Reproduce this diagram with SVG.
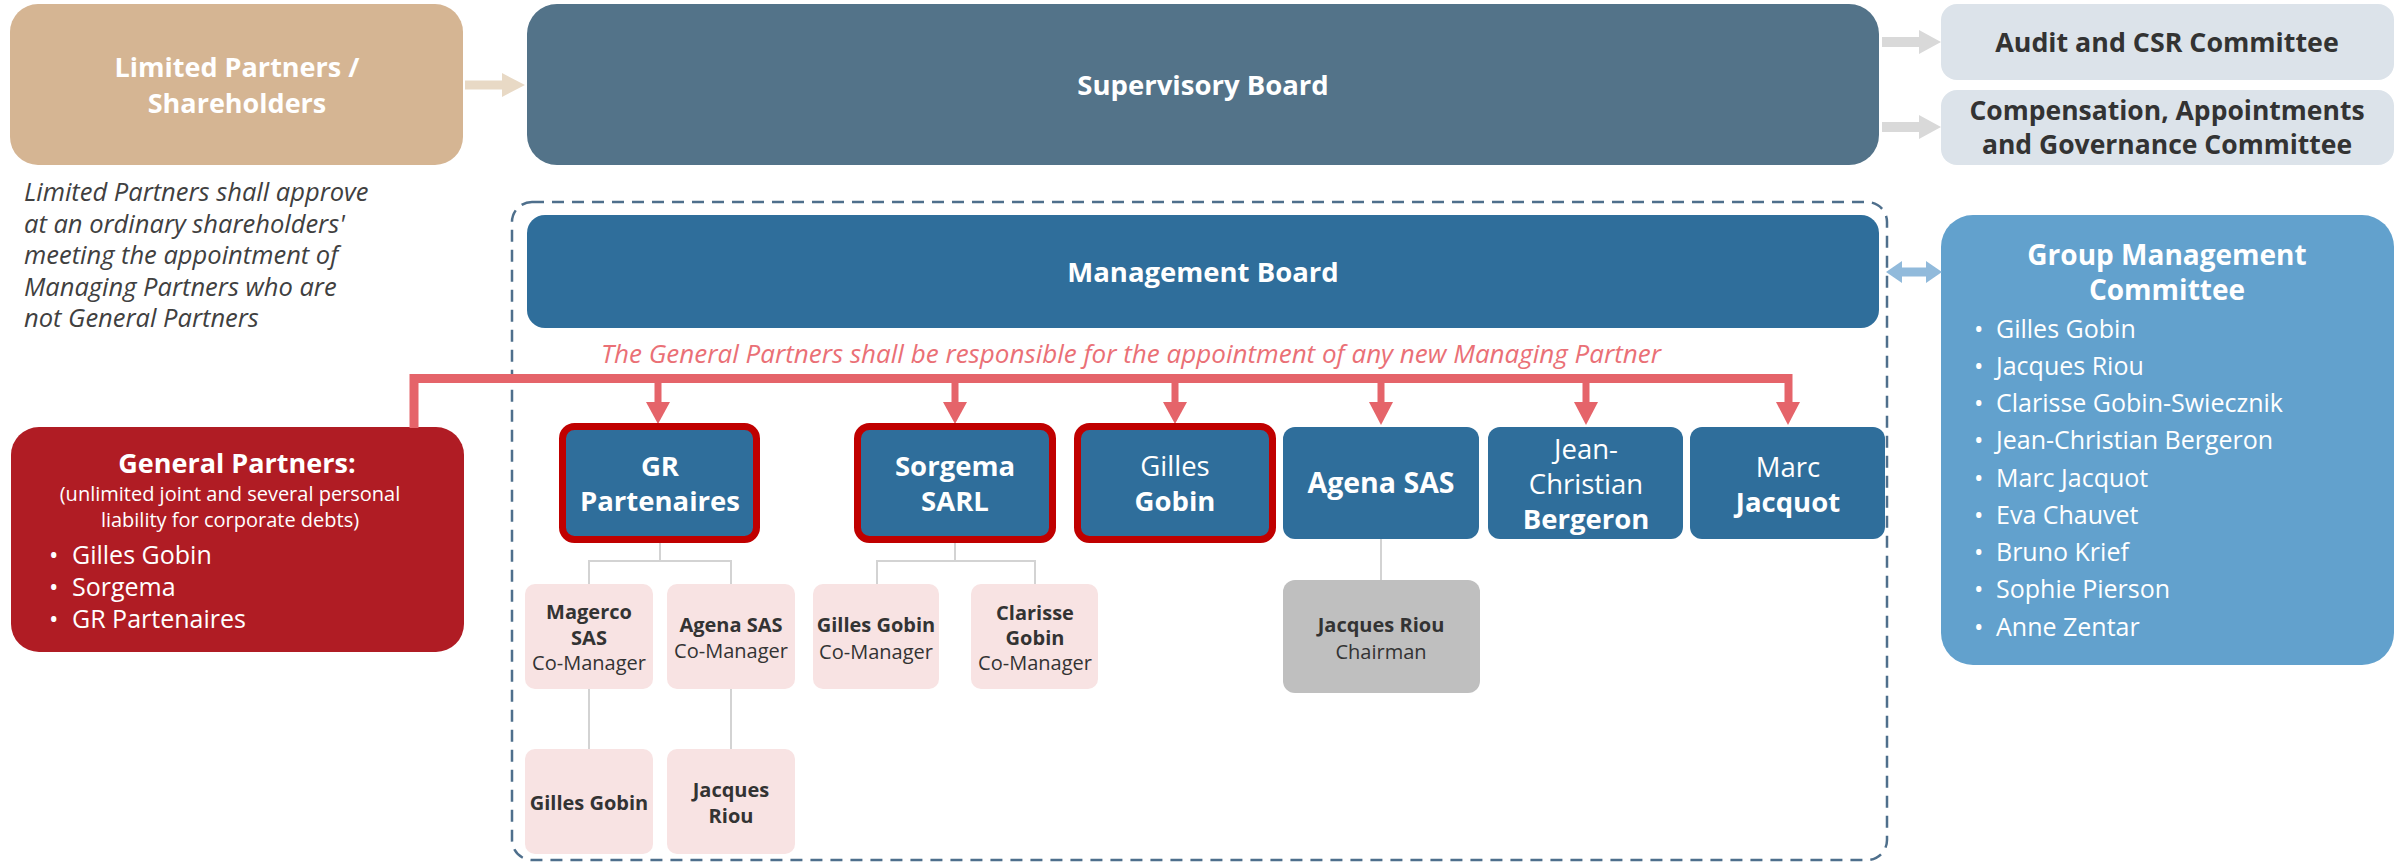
<svg xmlns="http://www.w3.org/2000/svg" width="2407" height="865" viewBox="0 0 2407 865">
<style>
text{font-family:"Open Sans","Noto Sans","Liberation Sans",sans-serif}
.w{fill:#fff}
.d{fill:#333}
.b{font-weight:bold}
.c{text-anchor:middle}
.t28{font-size:27.5px}
.t27{font-size:27px}
.t26{font-size:26.5px}
.tn{font-size:27.5px}
.t24{font-size:25px}
.t20{font-size:20px}
.blue{fill:#2F6E9B}
.rb{stroke:#C00000;stroke-width:7}
.pink{fill:#F8E3E3}
.gl{fill:none;stroke:#D3D3D3;stroke-width:2}
</style>

<g id="limited-partners">
<rect x="10" y="4" width="453" height="161" rx="28" fill="#D5B593"/>
<text class="w b c t27" x="237" y="77">Limited Partners /</text>
<text class="w b c t27" x="237" y="113">Shareholders</text>
</g>
<g id="limited-note" font-style="italic" font-size="25.5" fill="#404040">
<text x="24" y="201">Limited Partners shall approve</text>
<text x="24" y="233">at an ordinary  shareholders'</text>
<text x="24" y="264">meeting the appointment of</text>
<text x="24" y="296">Managing Partners who are</text>
<text x="24" y="327">not General Partners</text>
</g>

<g id="supervisory-board">
<rect x="527" y="4" width="1352" height="161" rx="30" fill="#537389"/>
<text class="w b c t28" x="1203" y="95">Supervisory Board</text>
</g>
<g id="audit-committee">
<rect x="1941" y="4" width="453" height="76" rx="16" fill="#DCE3EA"/>
<text class="d b c" font-size="26.8" x="2167" y="52">Audit and CSR Committee</text>
</g>
<g id="compensation-committee">
<rect x="1941" y="90" width="453" height="75" rx="16" fill="#DCE3EA"/>
<text class="d b c t26" x="2167" y="120">Compensation, Appointments</text>
<text class="d b c t26" x="2167" y="154">and Governance Committee</text>
</g>

<g id="management-perimeter">
<rect x="512" y="202" width="1375" height="658" rx="20" fill="none" stroke="#4E6F8C" stroke-width="2.5" stroke-dasharray="12 8"/>
</g>
<g id="management-board">
<rect x="527" y="215" width="1352" height="113" rx="18" fill="#2F6E9B"/>
<text class="w b c t28" x="1203" y="282">Management Board</text>
</g>

<g id="group-management-committee">
<rect x="1941" y="215" width="453" height="450" rx="32" fill="#62A1CD"/>
<text class="w b c" font-size="28" x="2167" y="265">Group Management</text>
<text class="w b c" font-size="28" x="2167" y="300">Committee</text>
<g class="w t24">
<text x="1974" y="338">•</text><text x="1996" y="338">Gilles Gobin</text>
<text x="1974" y="375">•</text><text x="1996" y="375">Jacques Riou</text>
<text x="1974" y="412">•</text><text x="1996" y="412">Clarisse Gobin-Swiecznik</text>
<text x="1974" y="449">•</text><text x="1996" y="449">Jean-Christian Bergeron</text>
<text x="1974" y="487">•</text><text x="1996" y="487">Marc Jacquot</text>
<text x="1974" y="524">•</text><text x="1996" y="524">Eva Chauvet</text>
<text x="1974" y="561">•</text><text x="1996" y="561">Bruno Krief</text>
<text x="1974" y="598">•</text><text x="1996" y="598">Sophie Pierson</text>
<text x="1974" y="636">•</text><text x="1996" y="636">Anne Zentar</text>
</g>
</g>

<g id="general-partners">
<rect x="11" y="427" width="453" height="225" rx="28" fill="#B01C24"/>
<text class="w b c t27" x="237" y="473">General Partners:</text>
<text class="w c" font-size="20" x="230" y="501">(unlimited joint and several personal</text>
<text class="w c" font-size="20" x="230" y="527">liability for corporate debts)</text>
<g class="w t24">
<text x="49" y="564">•</text><text x="72" y="564">Gilles Gobin</text>
<text x="49" y="596">•</text><text x="72" y="596">Sorgema</text>
<text x="49" y="628">•</text><text x="72" y="628">GR Partenaires</text>
</g>
</g>

<text id="gp-note" x="1131" y="363" text-anchor="middle" font-style="italic" font-size="26" fill="#EA7076">The General Partners shall be responsible for the appointment of any new Managing Partner</text>

<g id="connectors">
<polygon points="465,80.5 502,80.5 502,73 525,85 502,97 502,89.5 465,89.5" fill="#E8D9C5"/>
<polygon points="1882,37 1919,37 1919,30 1941,42 1919,54 1919,47 1882,47" fill="#D9D9D9"/>
<polygon points="1882,122 1919,122 1919,115 1941,127 1919,139 1919,132 1882,132" fill="#D9D9D9"/>
<polygon points="1886,272 1902,261 1902,267.5 1926,267.5 1926,261 1942,272 1926,283 1926,276.5 1902,276.5 1902,283" fill="#91BADB"/>
<path d="M414,428 V378.5 H1789" fill="none" stroke="#E5646A" stroke-width="9" stroke-linejoin="miter"/>
<g fill="#E5646A">
<rect x="654.5" y="378" width="7" height="25"/><polygon points="646,402 670,402 658,424"/>
<rect x="951.5" y="378" width="7" height="25"/><polygon points="943,402 967,402 955,424"/>
<rect x="1171.5" y="378" width="7" height="25"/><polygon points="1163,402 1187,402 1175,424"/>
<rect x="1377.5" y="378" width="7" height="25"/><polygon points="1369,402 1393,402 1381,425"/>
<rect x="1582.5" y="378" width="7" height="25"/><polygon points="1574,402 1598,402 1586,425"/>
<rect x="1784.5" y="374" width="8" height="29"/><polygon points="1776,402 1800,402 1788,425"/>
</g>
<path class="gl" d="M660,543 V561 M589,584 V561 H731 V584 M589,689 V749 M731,689 V749"/>
<path class="gl" d="M955,543 V561 M877,584 V561 H1035 V584"/>
<path class="gl" d="M1381,539 V580"/>
</g>

<g id="gr-partenaires">
<rect x="562.5" y="426.5" width="194" height="113" rx="12" class="blue rb"/>
<text class="w b c tn" x="660" y="476">GR</text>
<text class="w b c tn" x="660" y="511">Partenaires</text>
</g>
<g id="sorgema-sarl">
<rect x="857.5" y="426.5" width="195" height="113" rx="12" class="blue rb"/>
<text class="w b c tn" x="955" y="476">Sorgema</text>
<text class="w b c tn" x="955" y="511">SARL</text>
</g>
<g id="gilles-gobin">
<rect x="1077.5" y="426.5" width="195" height="113" rx="12" class="blue rb"/>
<text class="w c tn" x="1175" y="476">Gilles</text>
<text class="w b c tn" x="1175" y="511">Gobin</text>
</g>
<g id="agena-sas">
<rect x="1283" y="427" width="196" height="112" rx="12" class="blue"/>
<text class="w b c" font-size="28.5" x="1381" y="493">Agena SAS</text>
</g>
<g id="jean-christian-bergeron">
<rect x="1488" y="427" width="195" height="112" rx="12" class="blue"/>
<text class="w c tn" x="1586" y="459">Jean-</text>
<text class="w c tn" x="1586" y="494">Christian</text>
<text class="w b c tn" x="1586" y="529">Bergeron</text>
</g>
<g id="marc-jacquot">
<rect x="1690" y="427" width="195" height="112" rx="12" class="blue"/>
<text class="w c tn" x="1788" y="477">Marc</text>
<text class="w b c tn" x="1788" y="512">Jacquot</text>
</g>

<g id="magerco-sas">
<rect x="525" y="584" width="128" height="105" rx="10" class="pink"/>
<text class="d b c t20" x="589" y="619">Magerco</text>
<text class="d b c t20" x="589" y="645">SAS</text>
<text class="d c t20" x="589" y="670">Co-Manager</text>
</g>
<g id="agena-sas-co">
<rect x="667" y="584" width="128" height="105" rx="10" class="pink"/>
<text class="d b c t20" x="731" y="632">Agena SAS</text>
<text class="d c t20" x="731" y="658">Co-Manager</text>
</g>
<g id="gilles-gobin-magerco">
<rect x="525" y="749" width="128" height="105" rx="10" class="pink"/>
<text class="d b c t20" x="589" y="810">Gilles Gobin</text>
</g>
<g id="jacques-riou-agena">
<rect x="667" y="749" width="128" height="105" rx="10" class="pink"/>
<text class="d b c t20" x="731" y="797">Jacques</text>
<text class="d b c t20" x="731" y="823">Riou</text>
</g>
<g id="gilles-gobin-co">
<rect x="813" y="584" width="126" height="105" rx="10" class="pink"/>
<text class="d b c t20" x="876" y="632">Gilles Gobin</text>
<text class="d c t20" x="876" y="659">Co-Manager</text>
</g>
<g id="clarisse-gobin-co">
<rect x="971" y="584" width="127" height="105" rx="10" class="pink"/>
<text class="d b c t20" x="1035" y="620">Clarisse</text>
<text class="d b c t20" x="1035" y="645">Gobin</text>
<text class="d c t20" x="1035" y="670">Co-Manager</text>
</g>
<g id="jacques-riou-chairman">
<rect x="1283" y="580" width="197" height="113" rx="12" fill="#BFBFBF"/>
<text class="d b c t20" x="1381" y="632">Jacques Riou</text>
<text class="d c t20" x="1381" y="659">Chairman</text>
</g>
</svg>
